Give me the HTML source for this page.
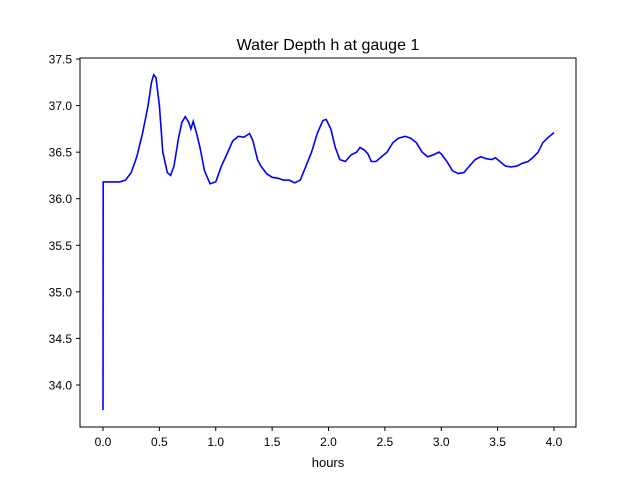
<!DOCTYPE html>
<html><head><meta charset="utf-8"><style>
body{margin:0;background:#fff;font-family:"Liberation Sans","DejaVu Sans",sans-serif}
</style></head><body>
<svg id="c" width="640" height="480" xmlns="http://www.w3.org/2000/svg">
<rect width="640" height="480" fill="#fff"/>
<text x="328" y="50" font-size="16" text-anchor="middle">Water Depth h at gauge 1</text>
<text x="328" y="467" font-size="13" text-anchor="middle">hours</text>
<g id="ticks"></g>
<path id="line" fill="none" stroke="#0000ff" stroke-width="1.6"/>
<rect x="80" y="58" width="496" height="369" fill="none" stroke="#000" stroke-width="1"/>
</svg>
<script>
const hours=[0,0.002,0.05,0.1,0.15,0.2,0.25,0.3,0.35,0.4,0.43,0.45,0.47,0.5,0.53,0.57,0.6,0.63,0.67,0.7,0.73,0.76,0.78,0.8,0.83,0.86,0.9,0.95,1.0,1.05,1.1,1.15,1.2,1.25,1.3,1.33,1.37,1.4,1.45,1.5,1.55,1.6,1.65,1.7,1.75,1.8,1.85,1.9,1.95,1.98,2.02,2.06,2.1,2.15,2.2,2.25,2.28,2.32,2.35,2.38,2.42,2.47,2.52,2.57,2.62,2.68,2.73,2.78,2.83,2.88,2.93,2.98,3.0,3.05,3.1,3.15,3.2,3.25,3.3,3.35,3.4,3.45,3.48,3.52,3.57,3.62,3.67,3.72,3.77,3.82,3.86,3.9,3.95,4.0];
const depth=[33.73,36.18,36.18,36.18,36.18,36.2,36.28,36.45,36.7,37.0,37.25,37.33,37.3,37.0,36.5,36.28,36.25,36.35,36.65,36.82,36.88,36.82,36.75,36.83,36.7,36.55,36.3,36.16,36.18,36.35,36.48,36.62,36.67,36.66,36.7,36.62,36.42,36.35,36.27,36.23,36.22,36.2,36.2,36.17,36.2,36.35,36.5,36.7,36.84,36.85,36.75,36.55,36.42,36.4,36.47,36.5,36.55,36.52,36.48,36.4,36.4,36.45,36.5,36.6,36.65,36.67,36.65,36.6,36.5,36.45,36.47,36.5,36.48,36.4,36.3,36.27,36.28,36.35,36.42,36.45,36.43,36.42,36.44,36.4,36.35,36.34,36.35,36.38,36.4,36.45,36.5,36.6,36.66,36.71];
const xTicks=[0,0.5,1,1.5,2,2.5,3,3.5,4];
const yTicks=[34,34.5,35,35.5,36,36.5,37,37.5];
const X=v=>103+v*112.75, Y=v=>59+(37.5-v)*93.14;
const NS="http://www.w3.org/2000/svg", g=document.getElementById('ticks');
function mk(t,a){const e=document.createElementNS(NS,t);for(const k in a)e.setAttribute(k,a[k]);g.appendChild(e);return e;}
xTicks.forEach(v=>{const l=mk('line',{x1:X(v),x2:X(v),y1:427,y2:431,stroke:'#000'});


const t=mk('text',{x:X(v),y:446,'font-size':12,'text-anchor':'middle'});t.textContent=v.toFixed(1);

});
yTicks.forEach(v=>{const l=mk('line',{x1:76,x2:80,y1:Y(v),y2:Y(v),stroke:'#000'});


const t=mk('text',{x:72,y:Y(v)+4.5,'font-size':12,'text-anchor':'end'});t.textContent=v.toFixed(1);

});
document.getElementById('line').setAttribute('d',hours.map((h,i)=>(i?'L':'M')+X(h).toFixed(1)+','+Y(depth[i]).toFixed(1)).join(''));
</script>
</body></html>
